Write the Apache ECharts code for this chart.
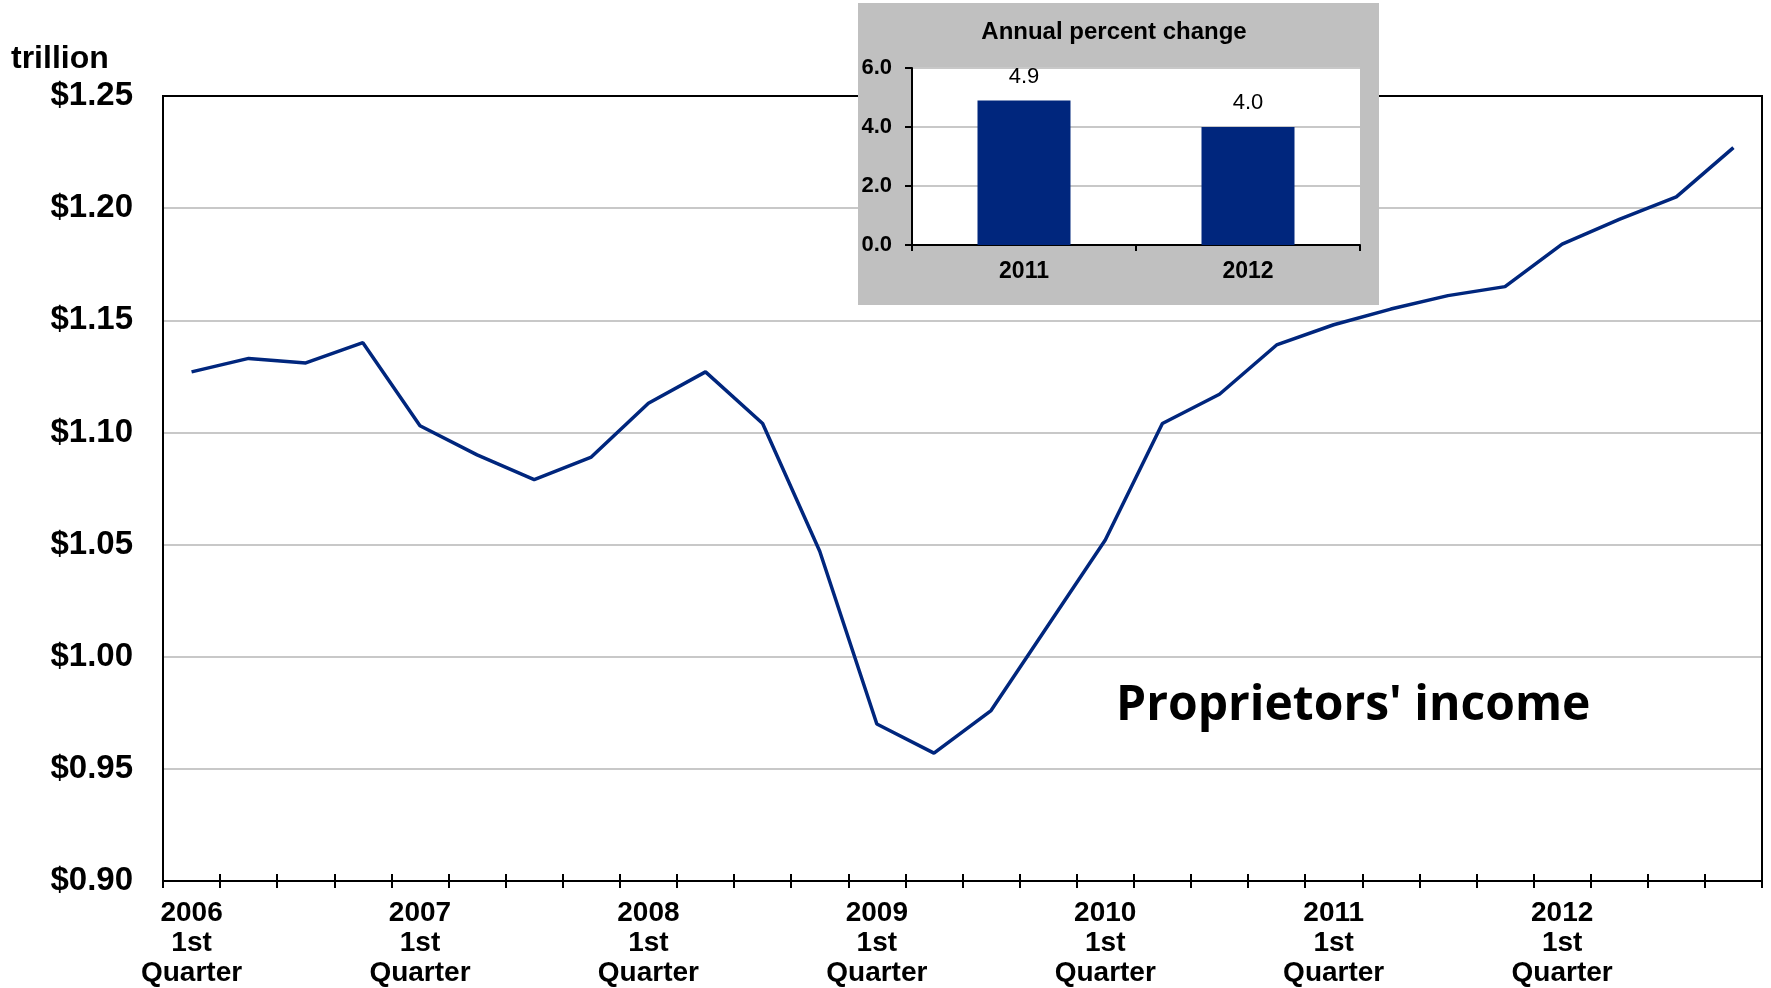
<!DOCTYPE html>
<html>
<head>
<meta charset="utf-8">
<script src="https://cdn.jsdelivr.net/npm/echarts@6/dist/echarts.min.js"></script>
<style>
  html, body { margin: 0; padding: 0; background: #fff; }
  #chart { width: 1771px; height: 988px; }
</style>
</head>
<body>
<div id="chart"></div>
<script>
// quarterly proprietors' income, trillion dollars
const quarters = [
    '2006 Q1', '2006 Q2', '2006 Q3', '2006 Q4',
    '2007 Q1', '2007 Q2', '2007 Q3', '2007 Q4',
    '2008 Q1', '2008 Q2', '2008 Q3', '2008 Q4',
    '2009 Q1', '2009 Q2', '2009 Q3', '2009 Q4',
    '2010 Q1', '2010 Q2', '2010 Q3', '2010 Q4',
    '2011 Q1', '2011 Q2', '2011 Q3', '2011 Q4',
    '2012 Q1', '2012 Q2', '2012 Q3', '2012 Q4'
]
const income = [
    1.127, 1.133, 1.131, 1.140,
    1.103, 1.090, 1.079, 1.089,
    1.113, 1.127, 1.104, 1.047,
    0.970, 0.957, 0.976, 1.014,
    1.052, 1.104, 1.117, 1.139,
    1.148, 1.155, 1.161, 1.165,
    1.184, 1.195, 1.205, 1.227
]

// inset: annual percent change
const annualYears = ['2011', '2012']
const annualChange = [4.9, 4.0]

const font = "'Liberation Sans', Arial, sans-serif"
const navy = '#00267D'

const chart = echarts.init(document.getElementById('chart'))

const option = {
    animation: false,
    backgroundColor: '#fff',
    textStyle: { fontFamily: font },
    grid: [
        {
            // border drawn above the gray split lines, below the series
            left: 163, right: 9, top: 96, bottom: 103,
            show: true, borderColor: '#000', borderWidth: 2, z: 2
        },
        {
            left: 912, top: 68, width: 448, height: 177,
            show: true, backgroundColor: '#fff', borderWidth: 0, z: 11
        }
    ],
    xAxis: [
        {
            type: 'category',
            gridIndex: 0,
            data: quarters,
            boundaryGap: true,
            z: 3,
            axisLine: { lineStyle: { color: '#000', width: 2 } },
            axisTick: { show: true, interval: 0, length: 7, lineStyle: { color: '#000', width: 2 } },
            axisLabel: {
                interval: 3,
                margin: 17,
                color: '#000',
                fontSize: 28,
                fontWeight: 'bold',
                lineHeight: 30,
                fontFamily: font,
                formatter: v => v.slice(0, 4) + '\n1st\nQuarter'
            },
            splitLine: { show: false }
        },
        {
            // second copy only to draw the part of each tick above the axis
            type: 'category',
            gridIndex: 0,
            position: 'bottom',
            data: quarters,
            boundaryGap: true,
            z: 3,
            axisLine: { show: false },
            axisTick: { show: true, inside: true, interval: 0, length: 7, lineStyle: { color: '#000', width: 2 } },
            axisLabel: { show: false },
            splitLine: { show: false }
        },
        {
            type: 'category',
            gridIndex: 1,
            data: annualYears,
            z: 12,
            axisLine: { lineStyle: { color: '#000', width: 2 } },
            axisTick: { show: true, length: 6, lineStyle: { color: '#000', width: 2 } },
            axisLabel: { color: '#000', fontSize: 23, fontWeight: 'bold', margin: 15, fontFamily: font }
        }
    ],
    yAxis: [
        {
            type: 'value',
            gridIndex: 0,
            min: 0.9,
            max: 1.25,
            interval: 0.05,
            z: 0,
            axisLine: { show: true, lineStyle: { color: '#000', width: 2 } },
            axisTick: { show: false },
            axisLabel: {
                margin: 30,
                color: '#000',
                fontSize: 33,
                fontWeight: 'bold',
                fontFamily: font,
                formatter: v => '$' + v.toFixed(2)
            },
            splitLine: { lineStyle: { color: '#C8C8C8', width: 2 } }
        },
        {
            type: 'value',
            gridIndex: 1,
            min: 0,
            max: 6,
            interval: 2,
            z: 12,
            axisLine: { show: true, lineStyle: { color: '#000', width: 2 } },
            axisTick: { show: true, length: 7, lineStyle: { color: '#000', width: 2 } },
            axisLabel: {
                margin: 20,
                color: '#000',
                fontSize: 22,
                fontWeight: 'bold',
                fontFamily: font,
                formatter: v => v.toFixed(1)
            },
            splitLine: { lineStyle: { color: '#C8C8C8', width: 2 } }
        }
    ],
    series: [
        {
            name: "Proprietors' income",
            type: 'line',
            xAxisIndex: 0,
            yAxisIndex: 0,
            data: income,
            symbol: 'none',
            lineStyle: { color: navy, width: 3.5 },
            z: 4
        },
        {
            name: 'Annual percent change',
            type: 'bar',
            xAxisIndex: 2,
            yAxisIndex: 1,
            data: annualChange,
            barWidth: 93,
            itemStyle: { color: navy },
            z: 13,
            label: {
                show: true,
                position: 'top',
                distance: 13,
                color: '#000',
                fontSize: 22,
                fontFamily: font,
                formatter: p => p.value.toFixed(1)
            }
        }
    ],
    graphic: [
        {
            type: 'rect',
            z: 10,
            shape: { x: 858, y: 3, width: 521, height: 302 },
            style: { fill: '#C0C0C0' }
        },
        {
            type: 'text',
            z: 12,
            x: 1114,
            y: 32,
            style: {
                text: 'Annual percent change',
                fill: '#000',
                font: 'bold 24px ' + font,
                textAlign: 'center',
                textVerticalAlign: 'middle'
            }
        },
        {
            type: 'text',
            z: 12,
            x: 11,
            y: 59,
            style: {
                text: 'trillion',
                fill: '#000',
                font: 'bold 32px ' + font,
                textVerticalAlign: 'middle'
            }
        },
        {
            type: 'text',
            z: 12,
            x: 1116,
            y: 706,
            style: {
                text: "Proprietors' income",
                fill: '#000',
                font: "bold 48px 'Open Sans', sans-serif",
                textVerticalAlign: 'middle'
            }
        }
    ]
}

chart.setOption(option)
window.addEventListener('resize', () => chart.resize())
</script>
</body>
</html>
